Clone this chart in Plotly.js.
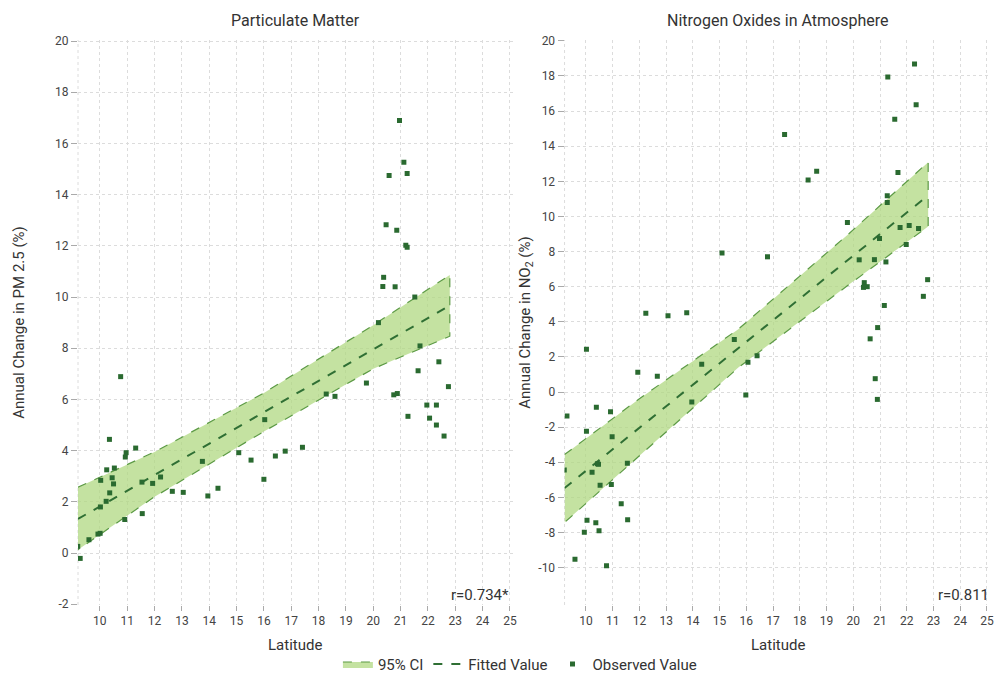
<!DOCTYPE html>
<html>
<head>
<meta charset="utf-8">
<script src="https://cdn.plot.ly/plotly-3.0.1.min.js"></script>
<style>html,body{margin:0;padding:0;background:#fff;}#chart{width:996px;height:673px;}</style>
</head>
<body>
<div id="chart"></div>
<script>
// ---- Data ----
const pmLat = [9.19, 9.28, 9.6, 9.93, 10.01, 10.02, 10.03, 10.23, 10.25, 10.36, 10.35, 10.45, 10.5, 10.53, 10.76, 10.91, 10.93, 10.96, 11.31, 11.54, 11.55, 11.93, 12.22, 12.65, 13.05, 13.75, 13.95, 14.32, 15.08, 15.53, 16.03, 16.0, 16.42, 16.78, 17.41, 18.28, 18.6, 19.75, 20.19, 20.75, 20.88, 21.71, 22.4, 21.64, 22.75, 21.96, 22.31, 21.27, 22.06, 22.31, 22.59, 20.96, 21.12, 21.24, 20.58, 20.47, 20.86, 21.19, 21.24, 20.38, 20.35, 20.8, 21.52];
const pmChange = [0.26, -0.21, 0.52, 0.74, 0.77, 1.8, 2.84, 2.02, 3.25, 2.35, 4.44, 2.94, 2.7, 3.32, 6.89, 1.31, 3.75, 3.92, 4.1, 2.77, 1.54, 2.72, 2.97, 2.41, 2.37, 3.58, 2.23, 2.53, 3.92, 3.63, 5.21, 2.88, 3.79, 3.98, 4.13, 6.21, 6.12, 6.64, 9.0, 6.18, 6.23, 8.09, 7.47, 7.12, 6.5, 5.78, 5.78, 5.34, 5.27, 5.0, 4.57, 16.9, 15.26, 14.83, 14.75, 12.82, 12.61, 12.02, 11.94, 10.77, 10.41, 10.4, 10.0];
const pmFitLat = [9.2, 22.8];
const pmFit = [1.33, 9.67];
const pmBandLat = [9.2, 12, 16, 20, 22.8];
const pmBandHi = [2.57, 3.95, 6.25, 8.9, 10.86];
const pmBandLo = [0.13, 2.2, 4.75, 7.2, 8.47];
const pmR = "r=0.734*";

const noLat = [9.19, 9.29, 9.59, 9.94, 10.02, 10.02, 10.04, 10.23, 10.37, 10.39, 10.43, 10.47, 10.49, 10.53, 10.77, 10.92, 10.95, 10.98, 11.32, 11.55, 11.56, 11.94, 12.24, 12.67, 13.07, 13.77, 13.96, 14.33, 15.55, 15.09, 15.98, 16.06, 16.4, 16.79, 17.43, 18.31, 18.63, 19.78, 22.35, 21.55, 21.67, 21.27, 21.27, 21.75, 22.09, 22.44, 20.98, 21.98, 20.22, 20.79, 21.22, 22.78, 22.62, 20.41, 20.38, 20.52, 21.16, 20.91, 20.63, 20.82, 20.9, 22.29, 21.29];
const noChange = [-4.44, -1.37, -9.52, -7.98, 2.44, -2.23, -7.31, -4.57, -7.45, -0.86, -4.08, -4.11, -7.9, -5.31, -9.9, -1.12, -5.26, -2.55, -6.36, -4.06, -7.28, 1.12, 4.48, 0.9, 4.34, 4.51, -0.57, 1.58, 2.99, 7.92, -0.17, 1.7, 2.06, 7.7, 14.67, 12.07, 12.57, 9.66, 16.36, 15.53, 12.51, 11.18, 10.8, 9.37, 9.49, 9.31, 8.74, 8.4, 7.53, 7.54, 7.41, 6.4, 5.45, 6.23, 5.96, 6.0, 4.93, 3.67, 3.03, 0.76, -0.42, 18.69, 17.94];
const noFitLat = [9.2, 22.8];
const noFit = [-5.47, 11.2];
const noBandLat = [9.2, 12, 15.7, 19.8, 22.8];
const noBandHi = [-3.56, -0.38, 3.58, 8.97, 13.09];
const noBandLo = [-7.43, -3.63, 1.39, 6.08, 9.43];
const noR = "r=0.811";

const titles = ["Particulate Matter", "Nitrogen Oxides in Atmosphere"];
const xTitle = "Latitude";
const yTitles = ["Annual Change in PM 2.5 (%)", "Annual Change in NO<sub>2</sub> (%)"];
const xTicks = [10,11,12,13,14,15,16,17,18,19,20,21,22,23,24,25];
const xTickText = ["10","11","12","13","14","15","16","17","18","19","20","21","22","23","24","25"];
const pmYTicks = [-2,0,2,4,6,8,10,12,14,16,18,20];
const pmYTickText = ["-2","0","2","4","6","8","10","12","14","16","18","20"];
const noYTicks = [-10,-8,-6,-4,-2,0,2,4,6,8,10,12,14,16,18,20];
const noYTickText = ["-10","-8","-6","-4","-2","0","2","4","6","8","10","12","14","16","18","20"];

// ---- Styles ----
const FONT = "Roboto, 'Liberation Sans Narrow', sans-serif";
const fillCol = "rgba(176,216,130,0.75)";
const edgeCol = "#5c9a45";
const fitCol = "#2f6f34";
const ptCol = "#2a6a30";

function band(xs, hi, lo, xa, ya, show) {
  return {
    x: xs.concat(xs.slice().reverse()),
    y: hi.concat(lo.slice().reverse()),
    xaxis: xa, yaxis: ya,
    type: 'scatter', mode: 'lines', fill: 'toself', fillcolor: fillCol,
    line: {color: edgeCol, width: 1.2, dash: 'dash'},
    name: '95% CI', showlegend: show, legendgroup: 'ci', hoverinfo: 'skip'
  };
}
function fit(xs, ys, xa, ya, show) {
  return {x: xs, y: ys, xaxis: xa, yaxis: ya, type: 'scatter', mode: 'lines',
    line: {color: fitCol, width: 2, dash: 'dash'}, name: 'Fitted Value',
    showlegend: show, legendgroup: 'fit'};
}
function pts(xs, ys, xa, ya, show) {
  return {x: xs, y: ys, xaxis: xa, yaxis: ya, type: 'scatter', mode: 'markers',
    marker: {symbol: 'square', size: 5, color: ptCol}, name: 'Observed Value',
    showlegend: show, legendgroup: 'obs'};
}

const data = [
  band(pmBandLat, pmBandHi, pmBandLo, 'x', 'y', true),
  fit(pmFitLat, pmFit, 'x', 'y', true),
  pts(pmLat, pmChange, 'x', 'y', true),
  band(noBandLat, noBandHi, noBandLo, 'x2', 'y2', false),
  fit(noFitLat, noFit, 'x2', 'y2', false),
  pts(noLat, noChange, 'x2', 'y2', false)
];

const gridStyle = {showgrid: true, gridcolor: '#dcdcdc', griddash: 'dot', gridwidth: 1, zeroline: false, showline: false, automargin: false};
const tickFont = {family: FONT, size: 12, color: '#444'};
function xax(domain, anchor, range) {
  return Object.assign({}, gridStyle, {
    domain: domain, anchor: anchor, range: range, tickmode: 'array', tickvals: xTicks, ticktext: xTickText,
    ticks: 'outside', ticklen: 5, tickcolor: '#aaa', tickwidth: 1, tickfont: tickFont
  });
}
function yax(anchor, range, tv, tt, title, standoff) {
  return Object.assign({}, gridStyle, {
    domain: [0, 1], anchor: anchor, range: range, tickmode: 'array', tickvals: tv, ticktext: tt,
    ticks: 'outside', ticklen: 6, tickcolor: '#aaa', tickwidth: 1,
    tickfont: tickFont, title: {text: title, font: {family: FONT, size: 15, color: '#333'}, standoff: standoff}
  });
}
const titleFont = {family: FONT, size: 15, color: '#333'};

const layout = {
  width: 996, height: 673,
  margin: {l: 78, r: 5, t: 40, b: 68},
  paper_bgcolor: '#fff', plot_bgcolor: '#fff',
  font: {family: FONT, color: '#333'},
  xaxis: xax([0, 0.4761], 'y', [9.2, 25.1]),
  yaxis: yax('x', [-2.03, 20.04], pmYTicks, pmYTickText, yTitles[0], 26),
  xaxis2: xax([0.5329, 1], 'y2', [9.2, 25.15]),
  yaxis2: yax('x2', [-12.13, 20.05], noYTicks, noYTickText, yTitles[1], 4),
  showlegend: true,
  legend: {orientation: 'h', x: 0.522, xref: 'container', xanchor: 'center', y: 0.013, yref: 'container', yanchor: 'middle',
    font: {family: FONT, size: 15, color: '#333'}, traceorder: 'normal', itemwidth: 30, bgcolor: 'rgba(0,0,0,0)'},
  annotations: [
    {text: titles[0], xref: 'x domain', yref: 'paper', x: 0.5, y: 1, yanchor: 'middle', yshift: 20, showarrow: false, font: {family: FONT, size: 16, color: '#333'}},
    {text: titles[1], xref: 'x2 domain', yref: 'paper', x: 0.5, y: 1, yanchor: 'middle', yshift: 20, showarrow: false, font: {family: FONT, size: 16, color: '#333'}},
    {text: xTitle, xref: 'x domain', yref: 'paper', x: 0.5, y: 0, yanchor: 'middle', yshift: -40, showarrow: false, font: titleFont},
    {text: xTitle, xref: 'x2 domain', yref: 'paper', x: 0.5, y: 0, yanchor: 'middle', yshift: -40, showarrow: false, font: titleFont},
    {text: pmR, xref: 'x domain', yref: 'y domain', x: 0.995, y: 0.0, yanchor: 'middle', yshift: 10, xanchor: 'right', showarrow: false, font: {family: FONT, size: 15, color: '#333'}},
    {text: noR, xref: 'x2 domain', yref: 'y2 domain', x: 1.0, y: 0.0, yanchor: 'middle', yshift: 10, xanchor: 'right', showarrow: false, font: {family: FONT, size: 15, color: '#333'}}
  ],
  shapes: [
    {type: 'line', xref: 'x domain', yref: 'y domain', x0: 0, x1: 0, y0: 0, y1: 1, line: {color: '#dcdcdc', width: 1, dash: 'dot'}, layer: 'below'},
    {type: 'line', xref: 'x2 domain', yref: 'y2 domain', x0: 0, x1: 0, y0: 0, y1: 1, line: {color: '#dcdcdc', width: 1, dash: 'dot'}, layer: 'below'}
  ]
};

Plotly.newPlot('chart', data, layout, {displayModeBar: false, staticPlot: true});
</script>
</body>
</html>
